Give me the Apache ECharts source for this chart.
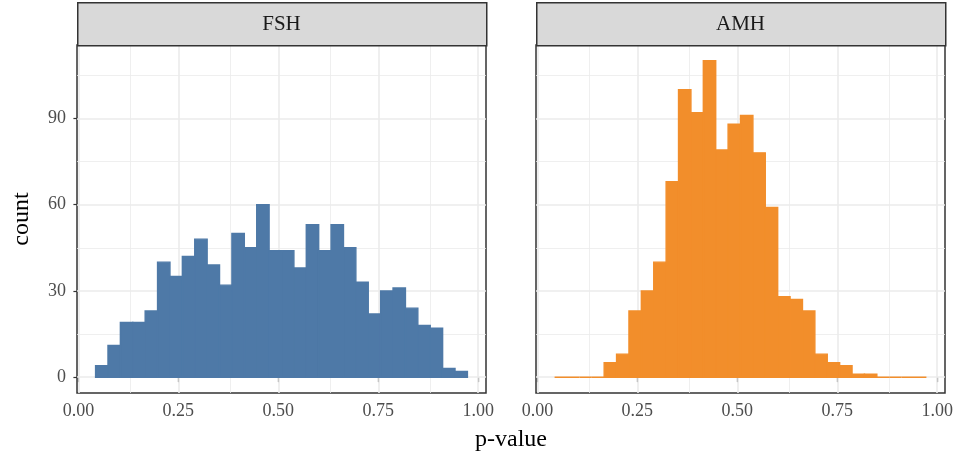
<!DOCTYPE html>
<html><head><meta charset="utf-8">
<script src="https://cdn.jsdelivr.net/npm/echarts@6/dist/echarts.min.js"></script>
<style>html,body{margin:0;padding:0;background:#fff}#c{width:961px;height:461px}</style>
</head><body><div id="c"></div>
<script>
// ---- data ----
const panels = ["FSH", "AMH"];
const binStart = 0.043;
const binWidth = 0.031;
const fshCounts = [4,11,19,19,23,40,35,42,48,39,32,50,45,60,44,44,38,53,44,53,45,33,22,30,31,24,18,17,3,2];
const amhCounts = [0,0,0,0,5,8,23,30,40,68,100,92,110,79,88,91,78,59,28,27,23,8,5,4,1,1,0,0,0,0];
const xTicks = [0, 0.25, 0.5, 0.75, 1.0];
const xMinor = [0.125, 0.375, 0.625, 0.875];
const yTicks = [0, 30, 60, 90];
const yMinor = [15, 45, 75, 105];
const colors = ["#4E79A7", "#F28E2B"];

const FONT = "'Liberation Serif', 'DejaVu Serif', serif";
const xMin = -0.0035, xMax = 1.0195, yMin = -5.5, yMax = 115.5;
const gridTop = 45, gridH = 348, gridW = 409;
const lefts = [77, 536];

function binData(counts){
  return counts.map((c,i)=>[binStart+i*binWidth, binStart+(i+1)*binWidth, c]);
}

const grids = lefts.map(l=>({left:l, top:gridTop, width:gridW, height:gridH, show:true,
  backgroundColor:'#fff', borderColor:'#333', borderWidth:1.5, containLabel:false}));

const xAxes = [0,1].map(i=>({type:'value', gridIndex:i, min:xMin, max:xMax,
  axisLine:{show:false}, splitLine:{show:false},
  axisTick:{show:true, customValues:xTicks, length:5, lineStyle:{color:'#333', width:1.2}},
  axisLabel:{show:true, customValues:xTicks, formatter:v=>v.toFixed(2), color:'#4D4D4D',
    fontFamily:FONT, fontSize:18, margin:9}}));

const yAxes = [0,1].map(i=>({type:'value', gridIndex:i, min:yMin, max:yMax,
  axisLine:{show:false}, splitLine:{show:false},
  axisTick:{show:i===0, customValues:yTicks, length:5, lineStyle:{color:'#333', width:1.2}},
  axisLabel:{show:i===0, customValues:yTicks, color:'#4D4D4D', fontFamily:FONT, fontSize:18, margin:11},
  name: i===0 ? 'count' : '', nameLocation:'middle', nameRotate:90, nameGap:43,
  nameTextStyle:{fontFamily:FONT, fontSize:24, color:'#000'}}));

const series = [];
[0,1].forEach(i=>{
  const lines = [];
  xMinor.forEach(v=>lines.push({xAxis:v, lineStyle:{width:0.8}}));
  yMinor.forEach(v=>lines.push({yAxis:v, lineStyle:{width:0.8}}));
  xTicks.forEach(v=>lines.push({xAxis:v, lineStyle:{width:1.6}}));
  yTicks.forEach(v=>lines.push({yAxis:v, lineStyle:{width:1.6}}));
  series.push({type:'line', xAxisIndex:i, yAxisIndex:i, data:[], z:1, silent:true,
    markLine:{silent:true, symbol:['none','none'], animation:false, label:{show:false},
      lineStyle:{color:'#EBEBEB', type:'solid'}, data:lines}});
  const counts = i===0 ? fshCounts : amhCounts;
  series.push({type:'custom', xAxisIndex:i, yAxisIndex:i, z:5, data:binData(counts),
    encode:{x:[0,1], y:2},
    renderItem:(params, api)=>{
      const p0 = api.coord([api.value(0), api.value(2)]);
      const p1 = api.coord([api.value(1), 0]);
      return {type:'rect', shape:{x:p0[0], y:p0[1], width:p1[0]-p0[0], height:p1[1]-p0[1]},
        style:{fill:colors[i], stroke:colors[i], lineWidth:1.4}};
    }});
});

const graphics = [];
lefts.forEach((l,i)=>{
  graphics.push({type:'rect', left:l, top:2, shape:{x:0,y:0,width:gridW,height:gridTop-2},
    style:{fill:'#D9D9D9', stroke:'#333', lineWidth:1.5}, z:10});
  graphics.push({type:'text', x:l+gridW/2, y:(gridTop+2)/2+1, z:11,
    style:{text:panels[i], fontFamily:FONT, fontSize:21, fill:'#1A1A1A', textAlign:'center', textVerticalAlign:'middle'}});
});
graphics.push({type:'text', x:(lefts[0]+lefts[1]+gridW)/2, y:440, z:11,
  style:{text:'p-value', fontFamily:FONT, fontSize:24, fill:'#000', textAlign:'center', textVerticalAlign:'middle'}});

const chart = echarts.init(document.getElementById('c'), null, {renderer:'canvas'});
chart.setOption({animation:false, backgroundColor:'#fff', grid:grids, xAxis:xAxes, yAxis:yAxes,
  series:series, graphic:graphics});
</script></body></html>
